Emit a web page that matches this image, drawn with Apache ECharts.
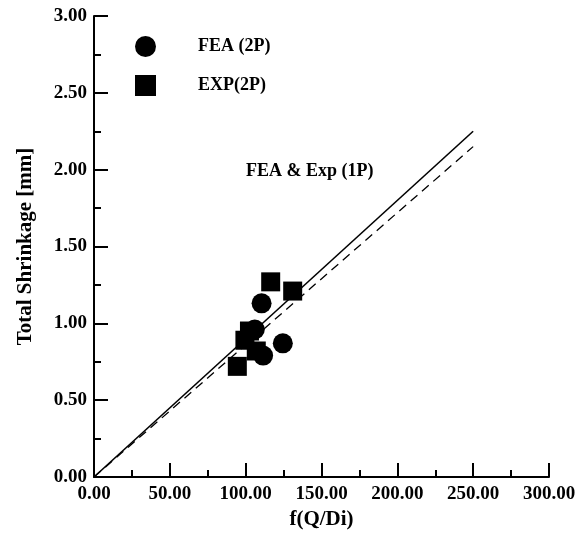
<!DOCTYPE html>
<html>
<head>
<meta charset="utf-8">
<script src="https://cdn.jsdelivr.net/npm/echarts@6/dist/echarts.min.js"></script>
<style>
  html, body { margin: 0; padding: 0; background: #fff; }
  #chart { width: 585px; height: 535px; }
</style>
</head>
<body>
<div id="chart"></div>
<script>
// 2P points: [f(Q/Di), shrinkage mm]
const feaPoints = [[106, 0.96], [110.5, 1.13], [124.5, 0.87], [111.5, 0.79]];
const expPoints = [[94.5, 0.72], [99.5, 0.89], [102.5, 0.95], [107, 0.82], [116.5, 1.27], [131, 1.21]];
// 1P fit lines (FEA solid, Exp dashed)
const feaLine = [[0, 0], [250, 2.25]];
const expLine = [[0, 0], [250, 2.15]];

const font = "'Liberation Serif', 'Times New Roman', serif";

const chart = echarts.init(document.getElementById("chart"));

chart.setOption({
  animation: false,
  backgroundColor: "#fff",
  grid: { left: 94, right: 36, top: 16, bottom: 58, containLabel: false, outerBoundsMode: "none" },
  legend: {
    left: 130,
    top: 31,
    orient: "vertical",
    itemWidth: 21,
    itemHeight: 21,
    itemGap: 18,
    data: [
      { name: "FEA (2P)", icon: "circle" },
      { name: "EXP(2P)", icon: "rect" },
    ],
    itemStyle: { color: "#000", opacity: 1 },
    textStyle: {
      fontFamily: font,
      fontWeight: "bold",
      fontSize: 18,
      color: "#000",
      padding: [0, 0, 0, 37],
    },
  },
  xAxis: {
    type: "value",
    min: 0,
    max: 300,
    interval: 50,
    name: "f(Q/Di)",
    nameLocation: "middle",
    nameGap: 31,
    nameTextStyle: { fontFamily: font, fontWeight: "bold", fontSize: 21, color: "#000" },
    axisLine: { lineStyle: { color: "#000", width: 2 } },
    axisTick: { inside: true, length: 14, lineStyle: { color: "#000", width: 2 } },
    minorTick: { show: true, splitNumber: 2, length: 7, lineStyle: { color: "#000", width: 2 } },
    splitLine: { show: false },
    axisLabel: {
      fontFamily: font,
      fontWeight: "bold",
      fontSize: 19,
      color: "#000",
      margin: 8,
      formatter: (v) => v.toFixed(2),
    },
  },
  yAxis: {
    type: "value",
    min: 0,
    max: 3,
    interval: 0.5,
    name: "Total Shrinkage [mm]",
    nameLocation: "middle",
    nameGap: 58,
    nameTextStyle: { fontFamily: font, fontWeight: "bold", fontSize: 21, color: "#000" },
    axisLine: { lineStyle: { color: "#000", width: 2 } },
    axisTick: { inside: true, length: 14, lineStyle: { color: "#000", width: 2 } },
    minorTick: { show: true, splitNumber: 2, length: 7, lineStyle: { color: "#000", width: 2 } },
    splitLine: { show: false },
    axisLabel: {
      fontFamily: font,
      fontWeight: "bold",
      fontSize: 19,
      color: "#000",
      margin: 7,
      formatter: (v) => v.toFixed(2),
    },
  },
  graphic: [
    {
      type: "text",
      left: 246,
      top: 162,
      style: {
        text: "FEA & Exp (1P)",
        font: "bold 18px " + font,
        fill: "#000",
      },
    },
  ],
  series: [
    {
      name: "FEA (1P)",
      type: "line",
      data: feaLine,
      symbol: "none",
      lineStyle: { color: "#000", width: 1.6 },
    },
    {
      name: "EXP (1P)",
      type: "line",
      data: expLine,
      symbol: "none",
      lineStyle: { color: "#000", width: 1.3, type: [9, 6] },
    },
    {
      name: "FEA (2P)",
      type: "scatter",
      symbol: "circle",
      symbolSize: 20,
      data: feaPoints,
      itemStyle: { color: "#000", opacity: 1 },
    },
    {
      name: "EXP(2P)",
      type: "scatter",
      symbol: "rect",
      symbolSize: 19,
      data: expPoints,
      itemStyle: { color: "#000", opacity: 1 },
    },
  ],
});
</script>
</body>
</html>
